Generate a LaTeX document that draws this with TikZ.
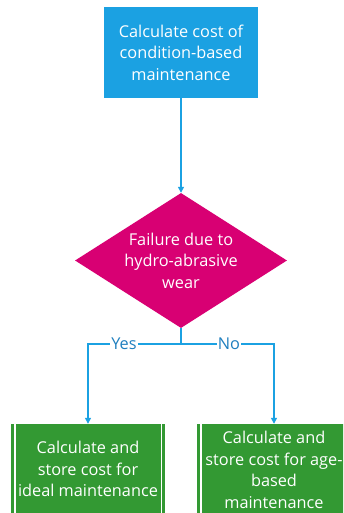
\documentclass[tikz,border=0pt]{standalone}
\usepackage{fontspec}
\setmainfont{Open Sans}
\usetikzlibrary{shapes.geometric,arrows.meta}
\definecolor{procblue}{HTML}{1BA1E2}
\definecolor{decmagenta}{HTML}{D80073}
\definecolor{stepgreen}{HTML}{339933}
\definecolor{linkblue}{HTML}{1BA1E2}
\definecolor{labelblue}{HTML}{1F7FBF}
\tikzset{
  boxtext/.style={text=white, align=center, font=\fontsize{16.3}{21.5}\selectfont},
  procbox/.style={fill=procblue, minimum width=154, minimum height=91, inner sep=0pt},
  decbox/.style={diamond, fill=decmagenta, minimum width=212, minimum height=135, inner sep=0pt},
  stepbox/.style={fill=stepgreen, minimum width=154, minimum height=92, inner sep=0pt},
  sidebar/.style={draw=white, line width=1.4pt},
  link/.style={draw=linkblue, line width=1.3pt, -{Triangle[length=6pt,width=6pt]}},
  plainlink/.style={draw=linkblue, line width=1.3pt},
  branch/.style={fill=white, text=labelblue, inner sep=1pt, font=\fontsize{16.3}{18}\selectfont}
}
\begin{document}
\begin{tikzpicture}[x=1pt,y=-1pt]
  \useasboundingbox (0,0) rectangle (343,513);
  \clip (0,0) rectangle (343,513);

  % start: condition-based cost
  \node[procbox] (start) at (181,52.5) {};
  \node[boxtext] at (start.center) {Calculate cost of\\condition-based\\maintenance};

  % decision on failure cause
  \node[decbox] (check) at (181,260.5) {};
  \node[boxtext] at (check.center) {Failure due to\\hydro-abrasive\\wear};

  % outcome boxes with double side bars
  \node[stepbox] (ideal) at (88,470) {};
  \draw[sidebar] ([xshift=4pt]ideal.north west) -- ([xshift=4pt]ideal.south west);
  \draw[sidebar] ([xshift=-4pt]ideal.north east) -- ([xshift=-4pt]ideal.south east);
  \node[boxtext] at ([yshift=1pt]ideal.center) {Calculate and\\store cost for\\ideal maintenance};

  \node[stepbox] (age) at (274,470) {};
  \draw[sidebar] ([xshift=4pt]age.north west) -- ([xshift=4pt]age.south west);
  \draw[sidebar] ([xshift=-4pt]age.north east) -- ([xshift=-4pt]age.south east);
  \node[boxtext] at (age.center) {Calculate and\\store cost for age-\\based\\maintenance};

  % connectors
  \draw[link] (start.south) -- (check.north);
  \coordinate (split) at (181,344);
  \draw[plainlink] (check.south) -- (split);
  \draw[link] (split) -| (ideal.north);
  \draw[link] (split) -| (age.north);
  \node[branch] at (124,344) {Yes};
  \node[branch] at (229,344) {No};
\end{tikzpicture}
\end{document}
